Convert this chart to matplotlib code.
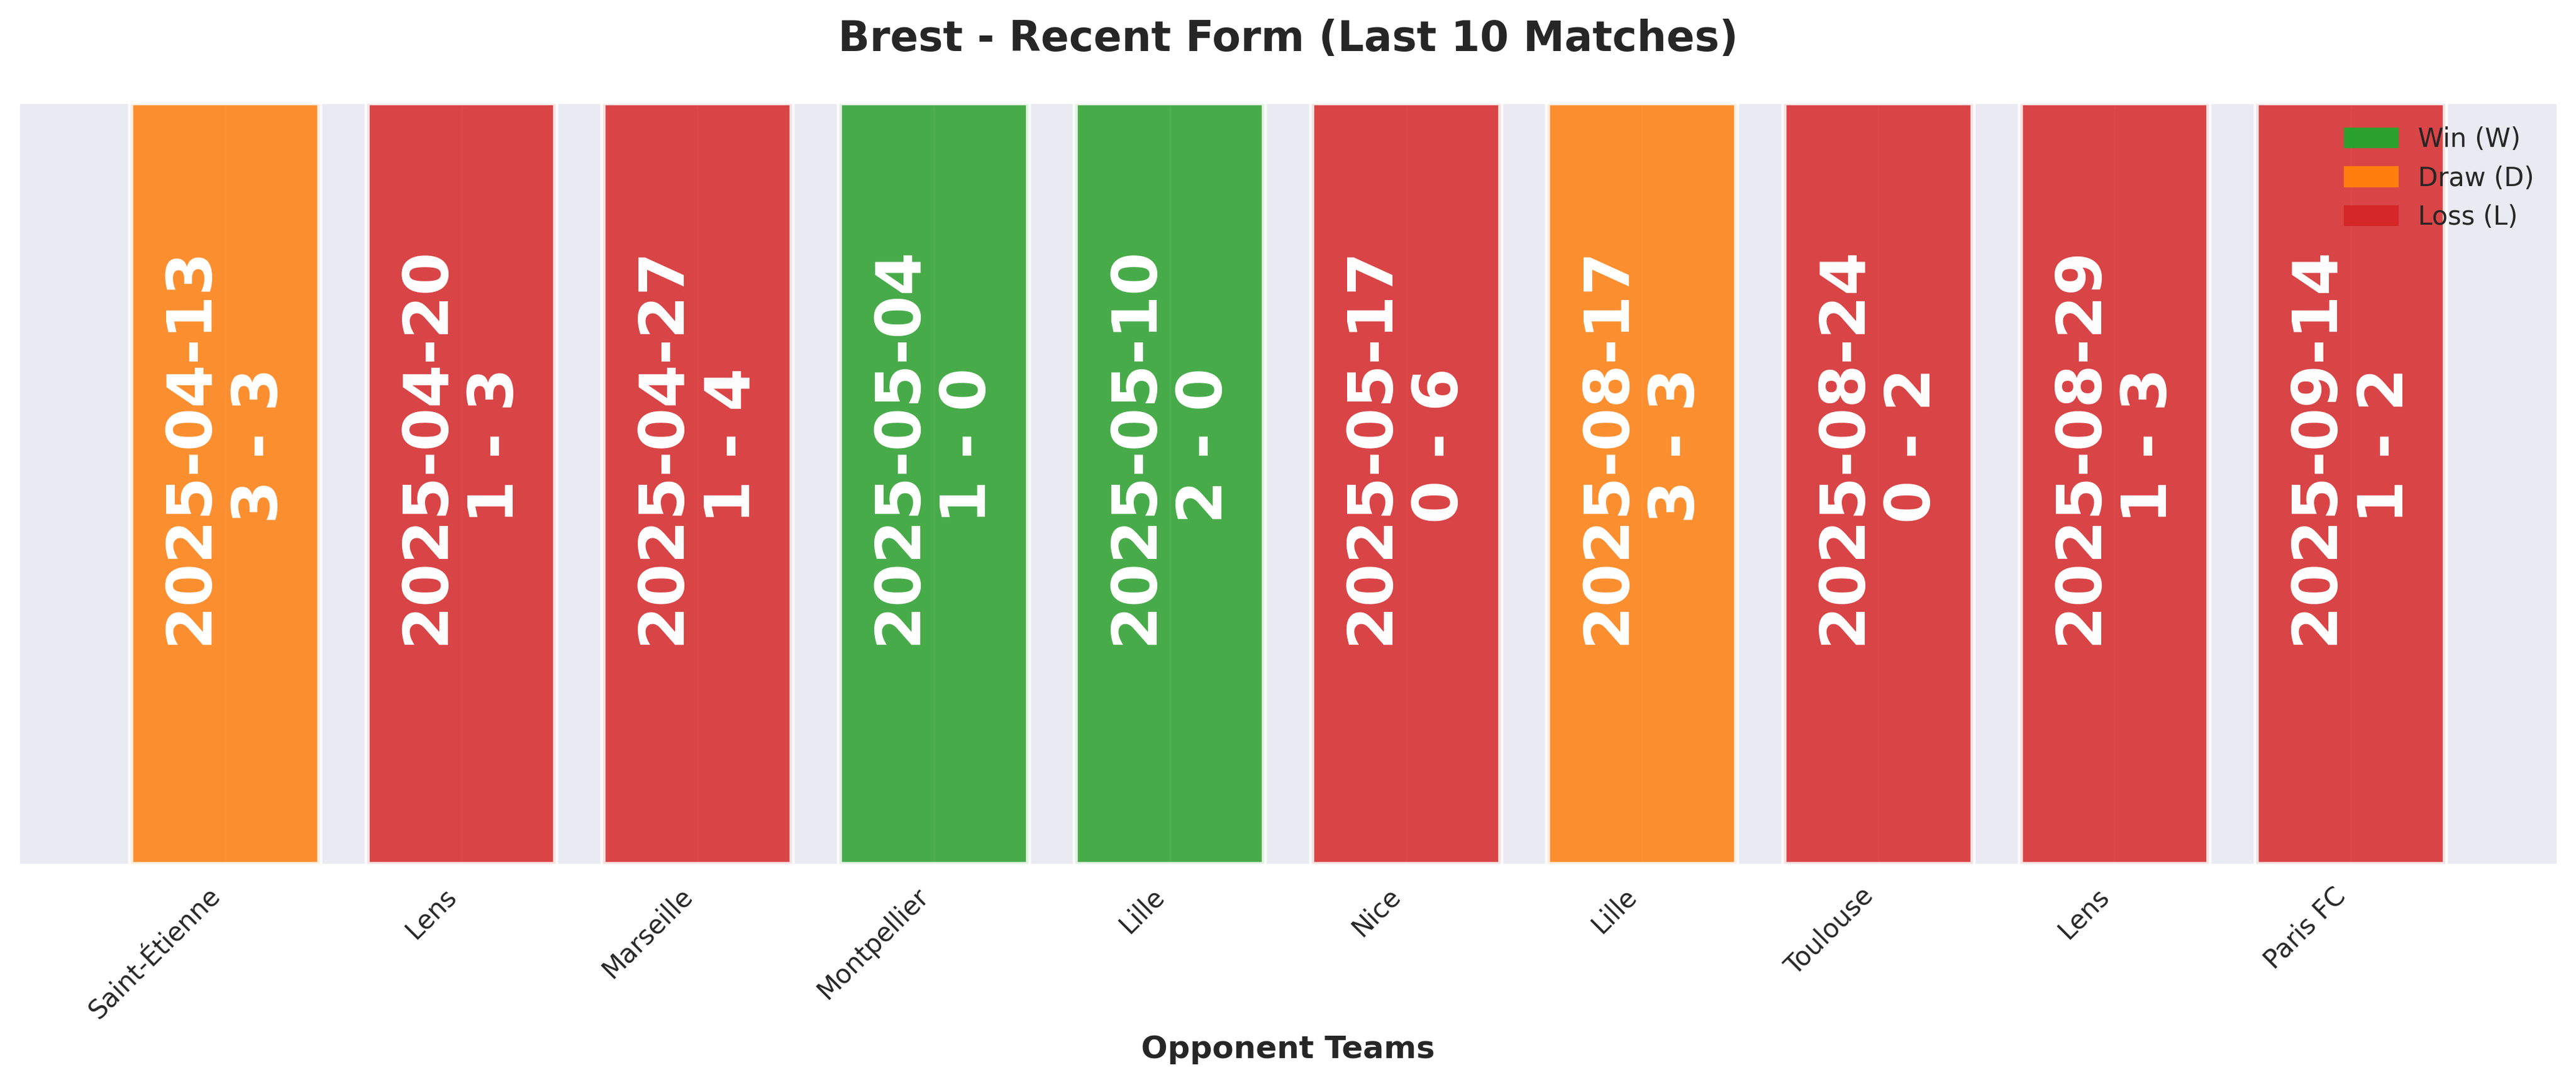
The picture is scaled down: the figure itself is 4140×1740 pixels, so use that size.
import matplotlib
matplotlib.use("Agg")
import matplotlib.pyplot as plt
import seaborn as sns
from matplotlib.patches import Patch

sns.set_style("darkgrid")
plt.rcParams['font.family'] = ['DejaVu Sans']

opponents = ["Saint-Étienne", "Lens", "Marseille", "Montpellier", "Lille", "Nice", "Lille", "Toulouse", "Lens", "Paris FC"]
dates = ["2025-04-13", "2025-04-20", "2025-04-27", "2025-05-04", "2025-05-10", "2025-05-17", "2025-08-17", "2025-08-24", "2025-08-29", "2025-09-14"]
scores = ["3 - 3", "1 - 3", "1 - 4", "1 - 0", "2 - 0", "0 - 6", "3 - 3", "0 - 2", "1 - 3", "1 - 2"]
results = ["D", "L", "L", "W", "W", "L", "D", "L", "L", "L"]

colors = {"W": "#2ca02c", "D": "#ff7f0e", "L": "#d62728"}

fig, ax = plt.subplots(figsize=(13.9, 5.9), dpi=300)
x = list(range(len(opponents)))
ax.bar(x, [1]*len(x), width=0.8, color=[colors[r] for r in results], alpha=0.85,
       edgecolor="white", linewidth=2)
for i in x:
    ax.text(i, 0.55, f"{dates[i]}\n{scores[i]}", rotation=90, ha="center", va="center",
            color="white", fontsize=24, fontweight="bold")
ax.set_xticks(x)
ax.set_xticklabels(opponents, rotation=45, ha="right", fontsize=10)
ax.set_yticks([])
ax.set_ylim(0, 1)
ax.set_xlim(-0.875, 9.875)
ax.set_xlabel("Opponent Teams", fontsize=12, fontweight="bold")
ax.set_title("Brest - Recent Form (Last 10 Matches)", fontsize=16, fontweight="bold", pad=20)
handles = [Patch(color=colors["W"], label="Win (W)"), Patch(color=colors["D"], label="Draw (D)"),
           Patch(color=colors["L"], label="Loss (L)")]
ax.legend(handles=handles, loc="upper right", fontsize=10, frameon=False)
plt.tight_layout()
plt.savefig("out.png", dpi=300, bbox_inches="tight")
